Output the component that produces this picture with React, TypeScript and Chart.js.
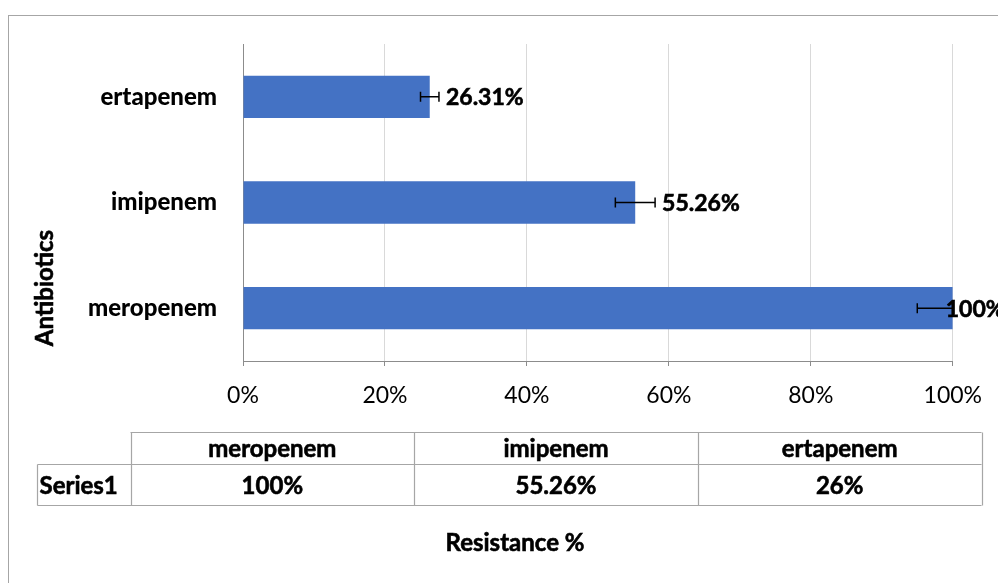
import React, { useEffect, useRef } from "react";
import { Chart, registerables } from "chart.js";

Chart.register(...registerables);

const categories = ["meropenem", "imipenem", "ertapenem"];
const resistance = [100, 55.26, 26.31];
const errorMargins = [5, 2.8, 1.3];
const barLabels = ["100%", "55.26%", "26.31%"];
const tableValues = ["100%", "55.26%", "26%"];
const seriesName = "Series1";
const xAxisTitle = "Resistance %";
const yAxisTitle = "Antibiotics";

const FONT = "Lato, 'Open Sans', sans-serif";
const BAR_COLOR = "#4472C4";

const framePlugin = {
  id: "frame",
  beforeDraw(chart: any) {
    const ctx = chart.ctx;
    ctx.save();
    ctx.fillStyle = "#ffffff";
    ctx.fillRect(0, 0, chart.width, chart.height);
    ctx.strokeStyle = "#a6a6a6";
    ctx.lineWidth = 1;
    ctx.strokeRect(8.5, 15.5, 2000, 2000);
    ctx.restore();
  },
};

const errorAndLabelPlugin = {
  id: "errorAndLabel",
  afterDatasetsDraw(chart: any) {
    const ctx = chart.ctx;
    const xs = chart.scales.x;
    const area = chart.chartArea;
    const meta = chart.getDatasetMeta(0);
    ctx.save();
    meta.data.forEach((bar: any, i: number) => {
      const v = resistance[i];
      const e = errorMargins[i];
      const x1 = xs.getPixelForValue(v - e);
      const x2 = xs.getPixelForValue(v + e);
      const y = bar.y;
      ctx.save();
      ctx.beginPath();
      ctx.rect(area.left, area.top, area.right - area.left + 1, area.bottom - area.top);
      ctx.clip();
      ctx.strokeStyle = "#000000";
      ctx.lineWidth = 1.5;
      ctx.beginPath();
      ctx.moveTo(x1, y);
      ctx.lineTo(x2, y);
      ctx.moveTo(x1, y - 5);
      ctx.lineTo(x1, y + 5);
      ctx.moveTo(x2, y - 5);
      ctx.lineTo(x2, y + 5);
      ctx.stroke();
      ctx.restore();
      ctx.fillStyle = "#000000";
      ctx.strokeStyle = "#000000";
      ctx.lineWidth = 0.6;
      ctx.font = `bold 23px ${FONT}`;
      ctx.textAlign = "left";
      ctx.textBaseline = "middle";
      const lx = Math.min(x2 + 7, area.right - 7);
      ctx.fillText(barLabels[i], lx, y + 1);
      ctx.strokeText(barLabels[i], lx, y + 1);
    });
    ctx.restore();
  },
};

function boldText(ctx: any, text: string, x: number, y: number) {
  ctx.fillText(text, x, y);
  ctx.strokeText(text, x, y);
}

const tablePlugin = {
  id: "dataTable",
  afterDraw(chart: any) {
    const ctx = chart.ctx;
    const left = 130.5;
    const right = 981.5;
    const seriesLeft = 37.5;
    const top = 432.5;
    const mid = 464.5;
    const bottom = 505.5;
    const n = categories.length;
    const colW = (right - left) / n;
    ctx.save();
    ctx.strokeStyle = "#a6a6a6";
    ctx.lineWidth = 1.2;
    ctx.beginPath();
    ctx.moveTo(left, top);
    ctx.lineTo(right, top);
    ctx.moveTo(seriesLeft, mid);
    ctx.lineTo(right, mid);
    ctx.moveTo(seriesLeft, bottom);
    ctx.lineTo(right, bottom);
    ctx.moveTo(seriesLeft, mid);
    ctx.lineTo(seriesLeft, bottom);
    for (let c = 0; c <= n; c++) {
      const x = Math.round(left + c * colW) + 0.5;
      ctx.moveTo(x, top);
      ctx.lineTo(x, bottom);
    }
    ctx.stroke();
    ctx.fillStyle = "#000000";
    ctx.strokeStyle = "#000000";
    ctx.lineWidth = 0.6;
    ctx.font = `bold 24px ${FONT}`;
    ctx.textAlign = "center";
    ctx.textBaseline = "middle";
    for (let c = 0; c < n; c++) {
      const cx = left + c * colW + colW / 2;
      boldText(ctx, categories[c], cx, (top + mid) / 2 + 1);
      boldText(ctx, tableValues[c], cx, (mid + bottom) / 2 + 1);
    }
    ctx.textAlign = "left";
    boldText(ctx, seriesName, seriesLeft + 2, (mid + bottom) / 2 + 1);

    ctx.textAlign = "center";
    ctx.font = `bold 24px ${FONT}`;
    boldText(ctx, xAxisTitle, 515, 543);

    ctx.save();
    ctx.translate(45, 288);
    ctx.rotate(-Math.PI / 2);
    ctx.font = `bold 24px ${FONT}`;
    boldText(ctx, yAxisTitle, 0, 0);
    ctx.restore();
    ctx.restore();
  },
};

export default function App() {
  const ref = useRef<HTMLCanvasElement | null>(null);
  useEffect(() => {
    if (!ref.current) return;
    const chart = new Chart(ref.current, {
      type: "bar",
      data: {
        labels: categories,
        datasets: [
          {
            label: seriesName,
            data: resistance,
            backgroundColor: BAR_COLOR,
            borderWidth: 0,
            categoryPercentage: 1,
            barPercentage: 0.4,
          },
        ],
      },
      options: {
        indexAxis: "y",
        responsive: false,
        animation: false,
        devicePixelRatio: 1,
        layout: { padding: { left: 0, top: 44, right: 45, bottom: 0 } },
        plugins: {
          legend: { display: false },
          tooltip: { enabled: false },
          title: { display: false },
        },
        scales: {
          x: {
            type: "linear",
            min: 0,
            max: 100,
            ticks: {
              stepSize: 20,
              callback: (v: any) => `${v}%`,
              color: "#000000",
              font: { family: FONT, size: 23 },
              padding: 16,
              maxRotation: 0,
            },
            grid: {
              color: "#d9d9d9",
              tickColor: "#8c8c8c",
              tickLength: 5,
              lineWidth: 1,
            },
            border: { color: "#8c8c8c", width: 1 },
            afterFit: (scale: any) => {
              scale.height = 583 - 361;
            },
          },
          y: {
            type: "category",
            reverse: true,
            ticks: {
              color: "#000000",
              font: { family: FONT, size: 24, weight: "900" },
              padding: 26,
            },
            grid: { display: false, drawTicks: false },
            border: { color: "#8c8c8c", width: 1 },
            afterFit: (scale: any) => {
              scale.width = 243;
            },
          },
        },
      },
      plugins: [framePlugin, errorAndLabelPlugin, tablePlugin],
    } as any);
    return () => chart.destroy();
  }, []);
  return (
    <div style={{ position: "absolute", left: 0, top: 0, width: 998, height: 583, overflow: "hidden" }}>
      <canvas ref={ref} width={998} height={583} style={{ display: "block" }} />
    </div>
  );
}
